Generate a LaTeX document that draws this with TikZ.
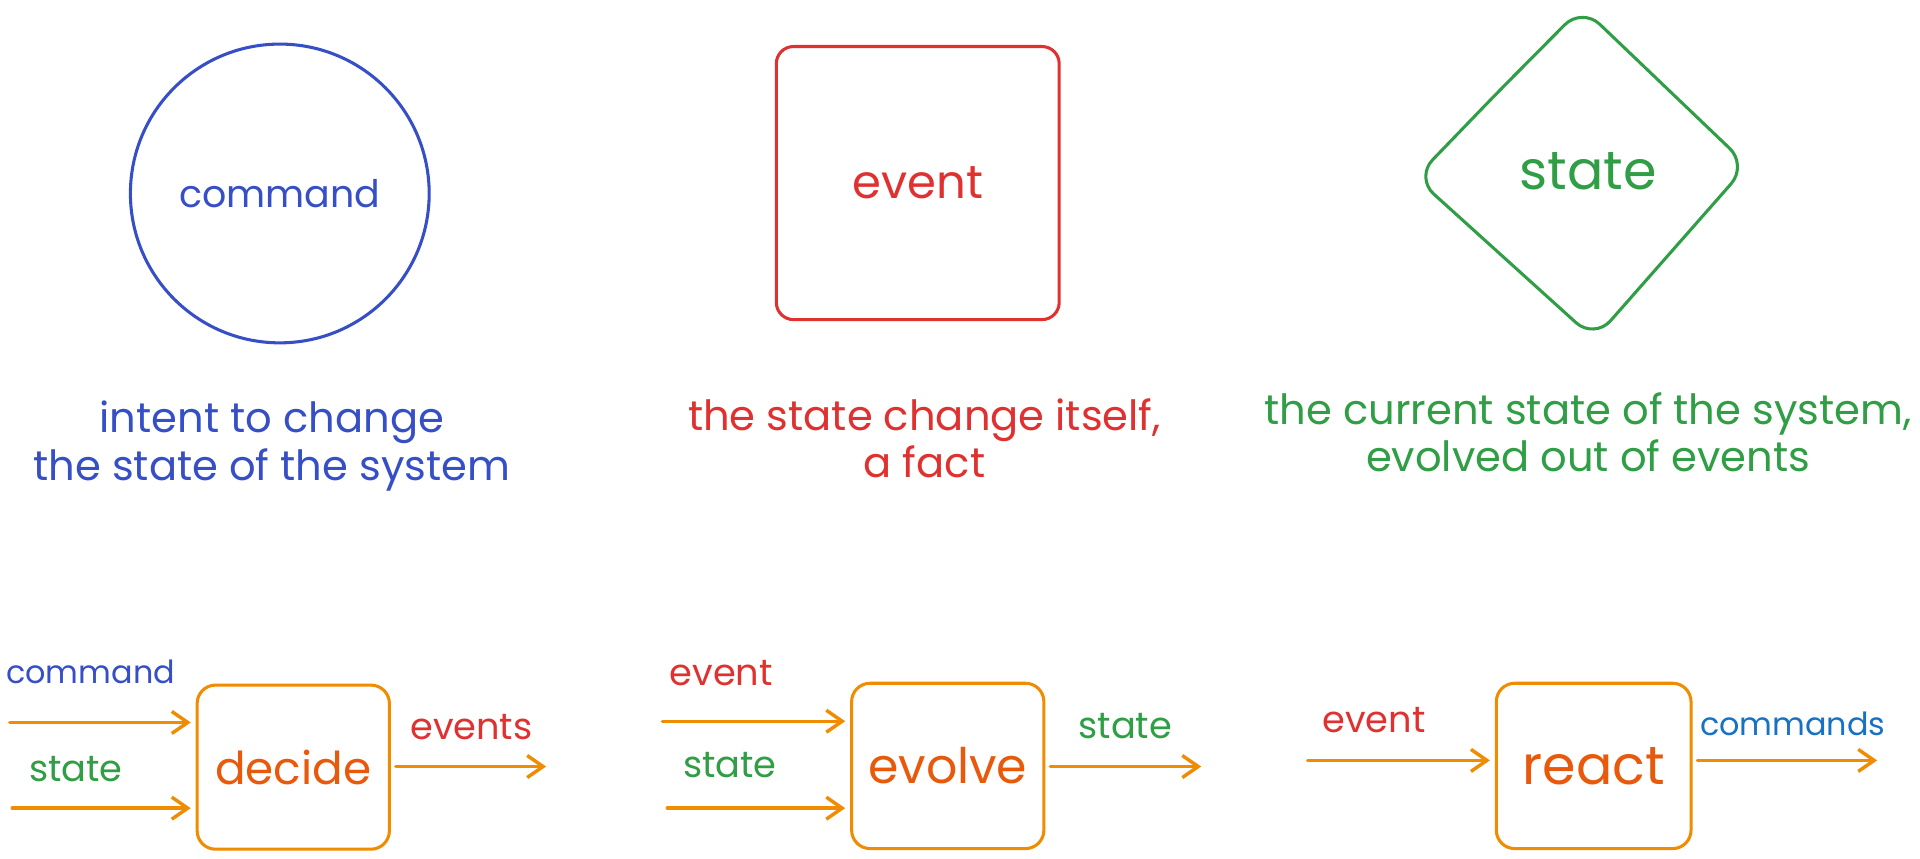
\documentclass[tikz,border=0pt]{standalone}
\usepackage{fontspec}
\setmainfont{Poppins}
\usetikzlibrary{arrows.meta}
\definecolor{cblue}{HTML}{364FC7}
\definecolor{cred}{HTML}{E03131}
\definecolor{cgreen}{HTML}{2F9E44}
\definecolor{corange}{HTML}{F08C00}
\definecolor{cdark}{HTML}{E8590C}
\definecolor{cblue2}{HTML}{1971C2}
\begin{document}
\begin{tikzpicture}[x=0.5pt,y=-0.5pt,
  big/.style={font=\fontsize{19}{22}\selectfont},
  capt/.style={font=\fontsize{17}{19.5}\selectfont, align=center, inner sep=0pt},
  lab/.style={font=\fontsize{15}{18}\selectfont, inner sep=0pt},
  labs/.style={font=\fontsize{13}{16}\selectfont, inner sep=0pt},
  fnbox/.style={draw=corange, line width=1.25pt, rounded corners=7.5pt, minimum width=78.5pt, minimum height=67pt, text=cdark, font=\fontsize{20}{24}\selectfont},
  arr/.style={draw=corange, line width=1.4pt, line cap=round, -{Straight Barb[length=6.5pt,width=9pt,line width=1.4pt]}, shorten >=2pt}
]
\useasboundingbox (0,0) rectangle (1568,701);
\fill[white] (0,0) rectangle (1568,701);

% top row
\node[circle, draw=cblue, line width=1.25pt, minimum size=122pt, text=cblue, font=\fontsize{15.5}{18}\selectfont] (cmd) at (228.5,158) {command};
\node[draw=cred, line width=1.25pt, rounded corners=7pt, minimum width=115.5pt, minimum height=111.5pt, text=cred, big] (evt) at (749.5,149.5) {event};
\draw[cgreen, line width=1.25pt, rounded corners=10pt] (1223.5,75) -- (1292,6) -- (1427,135) -- (1302,277) -- (1156,145) -- cycle;
\node[text=cgreen, font=\fontsize{22}{26}\selectfont] (st) at (1297,140) {state};

\node[capt, text=cblue] (cmdcap) at (222,364) {intent to change\\the state of the system};
\node[capt, text=cred] (evtcap) at (755,358) {the state change itself,\\a fact};
\node[capt, text=cgreen] (stcap) at (1297,353) {the current state of the system,\\evolved out of events};

% decide
\node[fnbox, font=\fontsize{18.5}{22}\selectfont] (decide) at (239.5,626.5) {decide};
\coordinate (d1) at (8,590);
\coordinate (d2) at (10,660);
\coordinate (d3) at (450,626);
\draw[arr] (d1) -- (decide.west |- d1);
\draw[arr] (d2) -- (decide.west |- d2);
\draw[arr, shorten <=2pt] (decide.east |- d3) -- (d3);
\node[labs, text=cblue] (l1) at (74,549) {command};
\node[lab, text=cgreen] (l2) at (62,628) {state};
\node[lab, text=cred] (l3) at (385,594) {events};

% evolve
\node[fnbox, minimum height=67.5pt] (evolve) at (774,625.5) {evolve};
\coordinate (e1) at (541,589);
\coordinate (e2) at (545,660);
\coordinate (e3) at (985,626);
\draw[arr] (e1) -- (evolve.west |- e1);
\draw[arr] (e2) -- (evolve.west |- e2);
\draw[arr, shorten <=2pt] (evolve.east |- e3) -- (e3);
\node[lab, text=cred] (l4) at (589,550) {event};
\node[lab, text=cgreen] (l5) at (596,625) {state};
\node[lab, text=cgreen] (l6) at (919,593) {state};

% react
\node[fnbox, minimum width=79.5pt, minimum height=67.5pt, font=\fontsize{22}{26}\selectfont] (react) at (1301.5,625.5) {react};
\coordinate (r1) at (1068,621);
\coordinate (r2) at (1537,621);
\draw[arr] (r1) -- (react.west |- r1);
\draw[arr, shorten <=2pt] (react.east |- r2) -- (r2);
\node[lab, text=cred] (l7) at (1122,588) {event};
\node[labs, text=cblue2] (l8) at (1464,591) {commands};
\end{tikzpicture}
\end{document}
